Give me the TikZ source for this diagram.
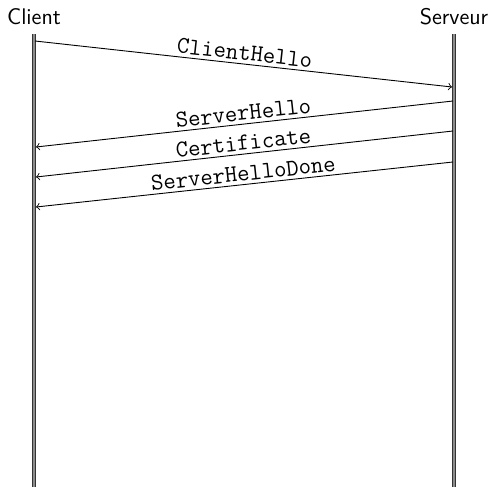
\documentclass[tikz,border=0pt]{standalone}
\usetikzlibrary{arrows}
\begin{document}
\begin{tikzpicture}[x=0.5pt,y=-0.5pt,
  actor/.style={font=\fontsize{11.3}{13}\sffamily},
  lifeline/.style={line width=1.7pt,draw=black!80},
  lifecore/.style={line width=0.7pt,draw=black!45},
  msg/.style={line width=0.45pt,-to},
  msglabel/.style={font=\fontsize{12}{14}\ttfamily,midway,above,sloped,inner sep=1.5pt}]
\useasboundingbox (0,0) rectangle (494,487);

% participants
\node[actor] (client) at (34,17) {Client};
\node[actor] (server) at (454,17) {Serveur};

% lifeline ends
\coordinate (ctop) at (34,34);
\coordinate (cbot) at (34,487);
\coordinate (stop) at (454,34);
\coordinate (sbot) at (454,487);

\draw[lifeline] (ctop) -- (cbot);
\draw[lifecore] (ctop) -- (cbot);
\draw[lifeline] (stop) -- (sbot);
\draw[lifecore] (stop) -- (sbot);

% message end points
\coordinate (m1a) at (35,41);
\coordinate (m1b) at (452,87);
\coordinate (m2a) at (453,101);
\coordinate (m2b) at (36,147);
\coordinate (m3a) at (453,131);
\coordinate (m3b) at (36,177);
\coordinate (m4a) at (453,162);
\coordinate (m4b) at (36,207);

\draw[msg] (m1a) -- node[msglabel] {ClientHello} (m1b);
\draw[msg] (m2a) -- node[msglabel] {ServerHello} (m2b);
\draw[msg] (m3a) -- node[msglabel] {Certificate} (m3b);
\draw[msg] (m4a) -- node[msglabel] {ServerHelloDone} (m4b);
\end{tikzpicture}
\end{document}
